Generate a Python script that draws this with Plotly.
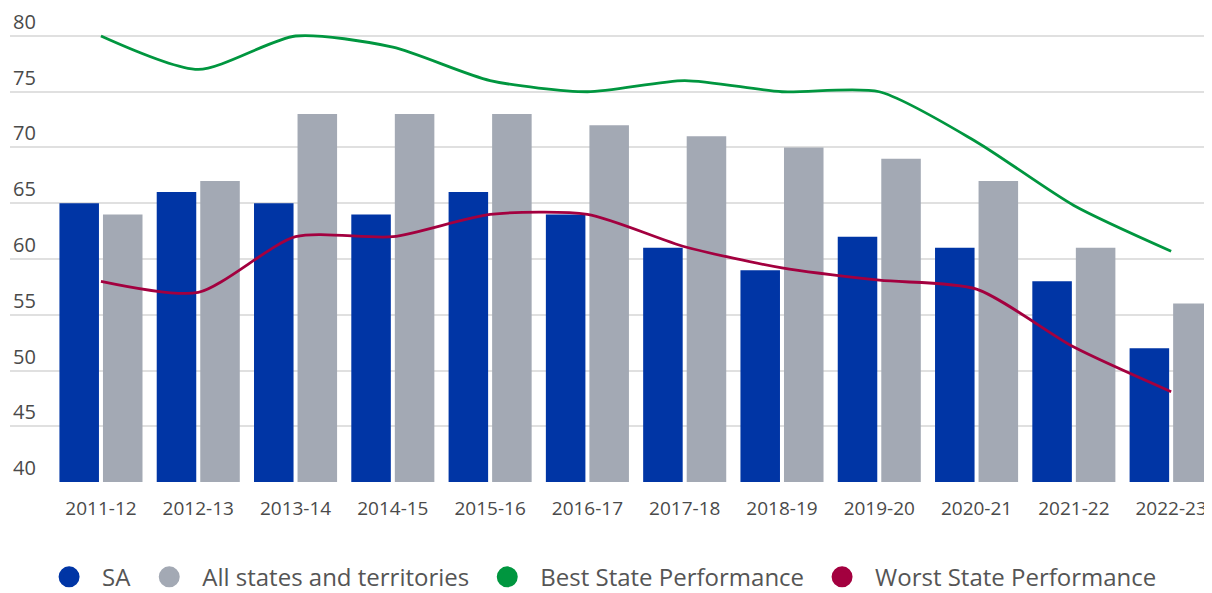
import plotly.graph_objects as go

categories = ['2011-12', '2012-13', '2013-14', '2014-15', '2015-16', '2016-17',
              '2017-18', '2018-19', '2019-20', '2020-21', '2021-22', '2022-23']
sa_values = [65, 66, 65, 64, 66, 64, 61, 59, 62, 61, 58, 52]
all_values = [64, 67, 73, 73, 73, 72, 71, 70, 69, 67, 61, 56]
best_values = [80, 77, 80, 79, 76, 75, 76, 75, 75, 70.5, 64.8, 60.7]
worst_values = [58, 57, 62, 62, 64, 64, 61.1, 59.2, 58.1, 57.3, 52.1, 48.1]
y_ticks = [40, 45, 50, 55, 60, 65, 70, 75, 80]

names = ['SA', 'All states and territories', 'Best State Performance', 'Worst State Performance']
colors = ['#0035a5', '#a3a9b4', '#00963f', '#a3003f']

fig = go.Figure()
fig.add_trace(go.Bar(x=categories, y=sa_values, name=names[0], marker_color=colors[0],
                     marker_line_width=0, showlegend=False, hoverinfo='skip'))
fig.add_trace(go.Bar(x=categories, y=all_values, name=names[1], marker_color=colors[1],
                     marker_line_width=0, showlegend=False, hoverinfo='skip'))
fig.add_trace(go.Scatter(x=categories, y=best_values, name=names[2], mode='lines',
                         line=dict(color=colors[2], width=2.8, shape='spline', smoothing=0.7),
                         showlegend=False, hoverinfo='skip'))
fig.add_trace(go.Scatter(x=categories, y=worst_values, name=names[3], mode='lines',
                         line=dict(color=colors[3], width=2.8, shape='spline', smoothing=0.7),
                         showlegend=False, hoverinfo='skip'))

# legend entries (circle symbols)
for n, c in zip(names, colors):
    fig.add_trace(go.Scatter(x=[None], y=[None], mode='markers', name=n,
                             marker=dict(symbol='circle', size=16, color=c,
                                         line=dict(color=c, width=5)),
                             showlegend=True))

font_family = 'Open Sans'
# page body has an 8px default margin, so the figure is sized to fit the window
fig.update_layout(
    width=1204, height=585,
    margin=dict(l=2, r=0, t=0, b=111, autoexpand=False),
    plot_bgcolor='white', paper_bgcolor='white',
    barmode='group', bargap=0.105, bargroupgap=0.092,
    font=dict(family=font_family, size=20, color='#4a4a4a'),
    showlegend=True,
    legend=dict(orientation='h', x=0.0217, xanchor='left', y=-0.201, yanchor='middle',
                font=dict(family=font_family, size=24, color='#555555'),
                itemsizing='trace', itemwidth=56, traceorder='normal',
                bgcolor='rgba(0,0,0,0)'),
    xaxis=dict(type='category', categoryorder='array', categoryarray=categories,
               range=[-0.935, 11.42], showgrid=False, zeroline=False, showline=False,
               ticks='', ticklabelstandoff=13, automargin=False,
               tickfont=dict(size=19, color='#4a4a4a'), fixedrange=True),
    yaxis=dict(range=[40, 82.51], tickvals=y_ticks, showgrid=True, gridcolor='#e0e0e0',
               gridwidth=2, zeroline=False, showline=False, ticks='', automargin=False,
               ticklabelposition='inside top', ticklabeloverflow='allow',
               tickfont=dict(size=20, color='#4a4a4a'), fixedrange=True),
)
fig.write_html('out.html')
